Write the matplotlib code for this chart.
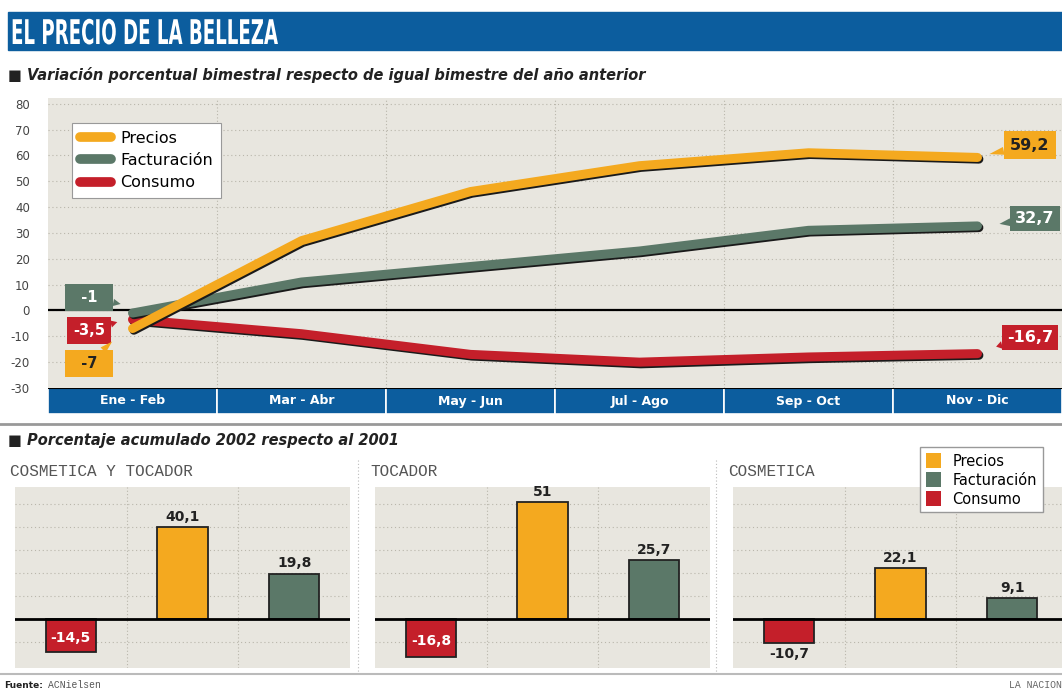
import matplotlib
matplotlib.use("Agg")
import matplotlib.pyplot as plt
import matplotlib.patheffects as pe
from matplotlib.patches import Rectangle, PathPatch, Patch
from matplotlib.lines import Line2D
from matplotlib.textpath import TextPath
from matplotlib.font_manager import FontProperties
from matplotlib.transforms import Affine2D

plt.rcParams["axes.unicode_minus"] = False

# ---- data ----
bimestres = ["Ene - Feb", "Mar - Abr", "May - Jun", "Jul - Ago", "Sep - Oct", "Nov - Dic"]
precios = [-7, 27, 46, 56, 61, 59.2]
facturacion = [-1, 11, 17, 23, 31, 32.7]
consumo = [-3.5, -9, -17, -20, -18, -16.7]

paneles = ["COSMETICA Y TOCADOR", "TOCADOR", "COSMETICA"]
acum_consumo = [-14.5, -16.8, -10.7]
acum_precios = [40.1, 51, 22.1]
acum_facturacion = [19.8, 25.7, 9.1]

C_PRE = "#f4a91f"
C_FAC = "#5b7868"
C_CON = "#c41f2a"
C_BLUE = "#0c5d9e"
C_BG = "#e8e6df"
C_GRID = "#b9b6ab"

W, H = 1062, 691
fig = plt.figure(figsize=(W / 100, H / 100), dpi=100)
fig.patch.set_facecolor("white")


def ax_px(x0, y0, x1, y1, **kw):
    return fig.add_axes([x0 / W, 1 - y1 / H, (x1 - x0) / W, (y1 - y0) / H], **kw)


def fx(x):
    return x / W


def fy(y):
    return 1 - y / H


def num(v):
    return f"{v:g}".replace(".", ",")


# ---- title banner ----
fig.patches.append(Rectangle((fx(8), fy(50)), fx(1062 - 8), 38 / H,
                             transform=fig.transFigure, color=C_BLUE, zorder=0))
# condensed title: text path squeezed horizontally
tp = TextPath((0, 0), "EL PRECIO DE LA BELLEZA", size=34,
              prop=FontProperties(family="DejaVu Sans", weight="bold"))
title = PathPatch(tp, fc="white", ec="none",
                  transform=Affine2D().scale(0.535, 1.0).translate(11, H - 44))
fig.add_artist(title)
fig.text(fx(8), fy(75), "\u25a0 Variación porcentual bimestral respecto de igual bimestre del año anterior",
         fontsize=10.5, fontweight="bold", fontstyle="italic", color="#222", va="center")

# ---- main line chart ----
ax = ax_px(48, 98, 1062, 388)
ax.set_facecolor(C_BG)
x = list(range(len(bimestres)))
ax.set_xlim(-0.5, 5.5)
ax.set_ylim(-29.7, 82.2)
for s in ax.spines.values():
    s.set_visible(False)
ax.set_yticks(range(-30, 81, 10))
ax.set_xticks([])
ax.tick_params(axis="y", length=0, labelsize=8.5, labelcolor="#444", pad=13)
for v in range(-20, 81, 10):
    ax.axhline(v, color=C_GRID, lw=0.8, ls=(0, (1, 2.5)), zorder=1)
for b in [0.5, 1.5, 2.5, 3.5, 4.5]:
    ax.axvline(b, color=C_GRID, lw=0.8, ls=(0, (1, 2)), zorder=1)
ax.axhline(0, color="black", lw=1.6, zorder=2)

shadow = [pe.SimpleLineShadow(offset=(1, -1.2), shadow_color="#1a1a1a", alpha=1), pe.Normal()]
for ys, c, lab in [(consumo, C_CON, "Consumo"), (facturacion, C_FAC, "Facturación"),
                   (precios, C_PRE, "Precios")]:
    ax.plot(x, ys, color=c, lw=6.5, solid_capstyle="round", solid_joinstyle="round",
            path_effects=shadow, zorder=4, label=lab)

handles = [Line2D([], [], color=C_PRE, lw=7, solid_capstyle="round"),
           Line2D([], [], color=C_FAC, lw=7, solid_capstyle="round"),
           Line2D([], [], color=C_CON, lw=7, solid_capstyle="round")]
leg = ax.legend(handles, ["Precios", "Facturación", "Consumo"], loc="upper left",
                bbox_to_anchor=(0.016, 0.942), fontsize=11.5, frameon=True, fancybox=False,
                edgecolor="#999", facecolor="white", framealpha=1, handlelength=1.9,
                borderpad=0.5, labelspacing=0.45, handletextpad=0.6)
leg.get_frame().set_linewidth(0.8)


def callout(axis, text, xy, xytext, fc, tc, fs=10.5, pad=0.35):
    axis.annotate(text, xy=xy, xytext=xytext, ha="center", va="center", fontsize=fs,
                  fontweight="bold", color=tc, zorder=6,
                  bbox=dict(boxstyle=f"square,pad={pad}", fc=fc, ec="none"),
                  arrowprops=dict(arrowstyle="wedge,tail_width=0.5,shrink_factor=0.5",
                                  fc=fc, ec="none", shrinkA=0, shrinkB=0))


# left callouts (first values)
callout(ax, f"  {num(facturacion[0])}  ", (-0.07, 2.5), (-0.257, 5.0), C_FAC, "white", pad=0.4)
callout(ax, num(consumo[0]), (-0.09, -4.5), (-0.257, -7.7), C_CON, "white", pad=0.4)
callout(ax, f"  {num(precios[0])}  ", (-0.12, -12.0), (-0.257, -20.5), C_PRE, "#222", pad=0.4)
# right callouts (last values)
callout(ax, num(precios[-1]), (5.07, 60.5), (5.31, 64.0), C_PRE, "#222", fs=11.5, pad=0.4)
callout(ax, num(facturacion[-1]), (5.13, 33.5), (5.34, 35.5), C_FAC, "white", fs=11.5, pad=0.3)
callout(ax, num(consumo[-1]), (5.11, -14.0), (5.31, -10.5), C_CON, "white", fs=11.5, pad=0.3)

# blue category band
axb = ax_px(48, 388, 1062, 414)
axb.bar(x, [1] * len(x), width=1, color=C_BLUE, edgecolor="white", lw=1.2)
axb.set_xlim(-0.5, 5.5)
axb.set_ylim(0, 1)
axb.axis("off")
for i, lab in enumerate(bimestres):
    axb.text(i, 0.5, lab, color="white", fontsize=9, fontweight="bold",
             ha="center", va="center")
axb.axhline(1, color="black", lw=1.5)

# separator
fig.add_artist(Line2D([fx(0), fx(1062)], [fy(424), fy(424)], color="#999", lw=2))
fig.text(fx(8), fy(440), "\u25a0 Porcentaje acumulado 2002 respecto al 2001",
         fontsize=10.5, fontweight="bold", fontstyle="italic", color="#222", va="center")

# ---- bottom bar panels ----
panel_x = [15, 375, 733]
for k, name in enumerate(paneles):
    x0 = panel_x[k]
    axp = ax_px(x0, 487, x0 + 335, 668)
    axp.set_xlim(-0.5, 2.5)
    axp.set_ylim(-21.4, 57.6)
    axp.axis("off")
    axp.add_patch(Rectangle((0, 0), 1, 1, transform=axp.transAxes, fc=C_BG, ec="none", zorder=0))
    for v in [-10, 10, 20, 30, 40, 50]:
        axp.axhline(v, color=C_GRID, lw=0.8, ls=(0, (1, 2.5)), zorder=1)
    for b in [0.5, 1.5]:
        axp.axvline(b, color=C_GRID, lw=0.8, ls=(0, (1, 2)), zorder=1)
    vals = [acum_consumo[k], acum_precios[k], acum_facturacion[k]]
    cols = [C_CON, C_PRE, C_FAC]
    axp.bar([0, 1, 2], vals, width=0.45, color=cols, edgecolor="#222", lw=1.3, zorder=3)
    axp.axhline(0, color="black", lw=2, zorder=4)
    for i, v in enumerate(vals):
        if v > 0:
            axp.text(i, v + 1.5, num(v), ha="center", va="bottom", fontsize=10,
                     fontweight="bold", color="#222", zorder=5)
        elif k < 2:
            axp.text(i, v / 2 - 1, num(v), ha="center", va="center", fontsize=10,
                     fontweight="bold", color="white", zorder=5)
        else:
            axp.text(i, v - 1.5, num(v), ha="center", va="top", fontsize=10,
                     fontweight="bold", color="#222", zorder=5)
    fig.text(fx(x0 - 5), fy(472), name, family=["Liberation Mono", "DejaVu Sans Mono"],
             fontsize=11.5, color="#555", va="center")
    if k > 0:
        fig.add_artist(Line2D([fx(x0 - 17), fx(x0 - 17)], [fy(460), fy(672)],
                              color="#bbb", lw=0.8, ls=(0, (1, 2))))

fig.legend([Patch(fc=C_PRE), Patch(fc=C_FAC), Patch(fc=C_CON)],
           ["Precios", "Facturación", "Consumo"], loc="upper left",
           bbox_to_anchor=(fx(913), fy(440)), fontsize=10.5, frameon=True, fancybox=False,
           edgecolor="#999", facecolor="white", framealpha=1, handlelength=1.0,
           handleheight=1.2, borderpad=0.4, labelspacing=0.25)

# footer
fig.add_artist(Line2D([fx(0), fx(1062)], [fy(674), fy(674)], color="#bbb", lw=1.5))
fig.text(fx(4), fy(685), "Fuente:", fontsize=6.5, fontweight="bold", color="#222", va="center")
fig.text(fx(48), fy(685), "ACNielsen", family=["Liberation Mono", "DejaVu Sans Mono"],
         fontsize=7, color="#555", va="center")
fig.text(fx(1062), fy(685), "LA NACION", family=["Liberation Mono", "DejaVu Sans Mono"],
         fontsize=7, color="#666", va="center", ha="right")

fig.savefig("out.png", dpi=100)
